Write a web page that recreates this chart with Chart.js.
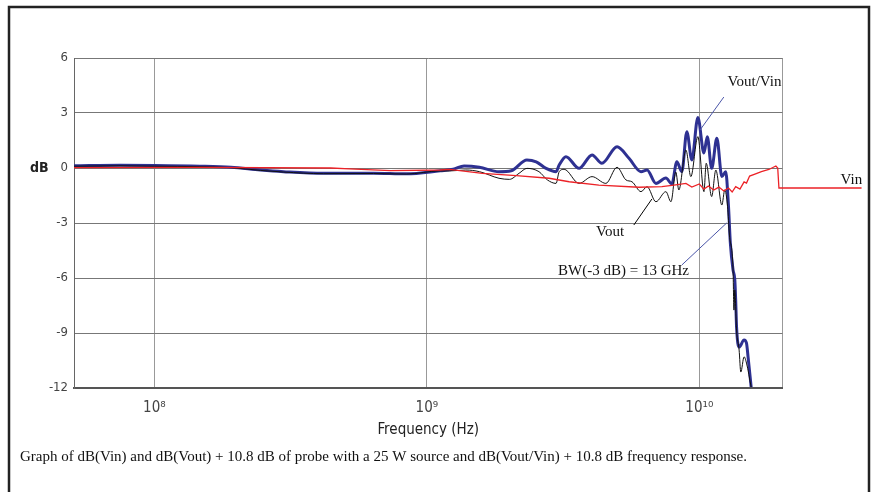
<!DOCTYPE html>
<html>
<head>
<meta charset="utf-8">
<script src="https://cdn.jsdelivr.net/npm/chart.js@4/dist/chart.umd.min.js"></script>
<style>
  body { margin: 0; background: #fff; }
  canvas { display: block; }
</style>
</head>
<body>
<canvas id="myChart" width="873" height="492"></canvas>
<script>
// frequency (Hz) / level (dB)
vinFreq = [5.07e7, 1.47e8, 4.44e8, 5.2e8, 7.35e8, 1.12e9, 1.21e9, 1.6e9, 2.13e9, 2.81e9, 3.33e9, 4.28e9, 6.0e9, 7.29e9, 8.07e9, 8.93e9, 9.39e9, 1.0e10, 1.04e10, 1.08e10, 1.13e10, 1.18e10, 1.23e10, 1.28e10, 1.32e10, 1.36e10, 1.41e10, 1.46e10, 1.49e10, 1.53e10, 1.60e10, 1.69e10, 1.80e10, 1.91e10, 1.94e10, 1.96e10, 3.94e10];
vinDb = [0.02, 0.03, 0, -0.05, -0.14, -0.11, -0.08, -0.29, -0.42, -0.56, -0.75, -0.93, -1.05, -1.02, -0.93, -0.84, -1.04, -0.87, -1.15, -0.98, -1.2, -1.04, -1.25, -1.09, -1.31, -1.02, -1.15, -0.76, -0.82, -0.44, -0.33, -0.2, -0.08, 0.11, 0, -1.09, -1.09];

voutFreq = [5.07e7, 7.48e7, 1e8, 1.47e8, 1.91e8, 2.45e8, 2.98e8, 4.18e8, 6.37e8, 8.41e8, 1.12e9, 1.21e9, 1.39e9, 1.56e9, 1.84e9, 2.01e9, 2.18e9, 2.33e9, 2.58e9, 2.77e9, 2.98e9, 3.06e9, 3.19e9, 3.62e9, 4.04e9, 4.54e9, 4.99e9, 5.38e9, 5.66e9, 6.11e9, 6.43e9, 6.93e9, 7.54e9, 7.87e9, 8.20e9, 8.41e9, 8.93e9, 9.31e9, 9.88e9, 1.04e10, 1.06e10, 1.11e10, 1.15e10, 1.21e10, 1.24e10, 1.27e10, 1.29e10, 1.33e10, 1.34e10, 1.35e10, 1.37e10, 1.40e10, 1.42e10, 1.46e10, 1.49e10, 1.55e10];
voutDb = [0.1, 0.12, 0.1, 0.07, 0.02, -0.13, -0.22, -0.31, -0.3, -0.33, -0.16, -0.16, -0.11, -0.2, -0.56, -0.62, -0.29, -0.02, -0.2, -0.65, -0.84, -0.2, -0.07, -0.84, -0.47, -0.84, 0.04, -0.65, -0.75, -1.29, -1.02, -1.84, -1.29, -1.84, -0.22, -1.2, 0.98, -0.47, 1.71, -1.29, 0.26, -1.56, -0.11, -2.02, -1.2, -2.11, -3.66, -5.56, -7.75, -6.65, -8.84, -9.93, -11.13, -10.3, -10.64, -11.95];

ratioFreq = [5.07e7, 7.48e7, 1e8, 1.47e8, 1.91e8, 2.45e8, 2.98e8, 4.18e8, 6.37e8, 8.41e8, 1.12e9, 1.25e9, 1.37e9, 1.56e9, 1.84e9, 2.04e9, 2.33e9, 2.52e9, 2.74e9, 2.98e9, 3.06e9, 3.24e9, 3.62e9, 4.04e9, 4.39e9, 4.99e9, 5.52e9, 6.11e9, 6.43e9, 6.93e9, 7.54e9, 7.93e9, 8.27e9, 8.63e9, 9.0e9, 9.39e9, 9.88e9, 1.04e10, 1.07e10, 1.11e10, 1.16e10, 1.21e10, 1.25e10, 1.28e10, 1.30e10, 1.33e10, 1.35e10, 1.36e10, 1.37e10, 1.40e10, 1.46e10, 1.49e10, 1.51e10, 1.55e10];
ratioDb = [0.12, 0.15, 0.14, 0.1, 0.04, -0.11, -0.2, -0.29, -0.28, -0.32, -0.15, -0.07, 0.11, 0.04, -0.2, -0.15, 0.44, 0.34, -0.02, -0.2, 0.16, 0.62, -0.02, 0.71, 0.26, 1.16, 0.53, -0.2, -0.11, -0.84, -0.55, -0.87, 0.34, -0.2, 1.98, 0.44, 2.76, 0.82, 1.71, -0.02, 1.62, -0.47, -0.2, -2.11, -4.1, -5.56, -6.1, -7.2, -8.67, -9.77, -9.38, -9.55, -10.3, -11.95];

xTicks = [1e8, 1e9, 1e10];
xTickLabels = ["10\u2078", "10\u2079", "10\u00b9\u2070"];
yMin = -12;
yMax = 6;
yStep = 3;
fMin = 5.07e7;
fMax = 2.02e10;

caption = "Graph of dB(Vin) and dB(Vout) + 10.8 dB of probe with a 25 W source and dB(Vout/Vin) + 10.8 dB frequency response.";

// callouts, in axis units: [text, textF, textDb, lineF1, lineDb1, lineF2, lineDb2, colour]
notes = [
    ["Vout/Vin", 1.27e10, 4.69, 1.23e10, 3.87, 1.006e10, 2.07, "#4a55a8"],
    ["Vout", 4.18e9, -3.49, 5.75e9, -3.11, 6.7e9, -1.69, "#000"],
    ["BW(-3 dB) = 13 GHz", 3.03e9, -5.62, 8.63e9, -5.29, 1.26e10, -3.0, "#4a55a8"],
    ["Vin", 3.3e10, -0.65, null, null, null, null, "#000"]
];

function pts(f, v) {
    return f.map((x, i) => ({x: x, y: v[i]}));
}

narrow = "'DejaVu Sans Condensed', 'Liberation Sans', sans-serif";
serif = "'Liberation Serif', 'DejaVu Serif', serif";

var decorPlugin = {
    id: 'decor',
    beforeDraw(chart) {
        var ctx = chart.ctx;
        ctx.save();
        ctx.strokeStyle = '#222';
        ctx.lineWidth = 2.5;
        ctx.beginPath();
        ctx.moveTo(9, 500);
        ctx.lineTo(9, 7);
        ctx.lineTo(869, 7);
        ctx.lineTo(869, 500);
        ctx.stroke();
        ctx.restore();
    },
    afterDraw(chart) {
        var ctx = chart.ctx;
        var xs = chart.scales.x, ys = chart.scales.y;
        ctx.save();
        // y label
        ctx.fillStyle = '#222';
        ctx.font = "bold 14px " + narrow;
        ctx.textBaseline = 'middle';
        ctx.textAlign = 'left';
        ctx.fillText("dB", 30, ys.getPixelForValue(0));
        // callouts
        ctx.font = "15px " + serif;
        notes.forEach(function (n) {
            ctx.fillStyle = '#111';
            ctx.fillText(n[0], xs.getPixelForValue(n[1]), ys.getPixelForValue(n[2]));
            if (n[3] !== null) {
                ctx.strokeStyle = n[7];
                ctx.lineWidth = 1;
                ctx.beginPath();
                ctx.moveTo(xs.getPixelForValue(n[3]), ys.getPixelForValue(n[4]));
                ctx.lineTo(xs.getPixelForValue(n[5]), ys.getPixelForValue(n[6]));
                ctx.stroke();
            }
        });
        // caption
        ctx.font = "15px " + serif;
        ctx.fillText(caption, 20, 457);
        ctx.restore();
    }
};

function renderChart() {
    var ctx = document.getElementById("myChart").getContext('2d');
    new Chart(ctx, {
        type: 'line',
        data: {
            datasets: [{
                label: 'Vin',
                data: pts(vinFreq, vinDb),
                borderColor: '#ec2227',
                borderWidth: 1.3,
                clip: false,
                order: 0
            }, {
                label: 'Vout',
                data: pts(voutFreq, voutDb),
                borderColor: '#111',
                borderWidth: 1,
                cubicInterpolationMode: 'monotone',
                order: 1
            }, {
                label: 'Vout/Vin',
                data: pts(ratioFreq, ratioDb),
                borderColor: '#2e3192',
                borderWidth: 3,
                cubicInterpolationMode: 'monotone',
                order: 2
            }]
        },
        options: {
            responsive: false,
            devicePixelRatio: 1,
            animation: false,
            layout: {padding: {left: 0, top: 58, right: 90.5, bottom: 0}},
            elements: {point: {radius: 0}, line: {tension: 0}},
            plugins: {legend: {display: false}, tooltip: {enabled: false}},
            scales: {
                x: {
                    type: 'logarithmic',
                    min: fMin,
                    max: fMax,
                    afterBuildTicks: function (axis) {
                        axis.ticks = [fMin].concat(xTicks, [fMax]).map(v => ({value: v}));
                    },
                    afterFit: function (axis) { axis.height = 104; },
                    ticks: {
                        autoSkip: false,
                        maxRotation: 0,
                        padding: 11,
                        color: '#444',
                        font: {family: narrow, size: 15},
                        callback: function (v) {
                            var i = xTicks.indexOf(v);
                            return i < 0 ? '' : xTickLabels[i];
                        }
                    },
                    grid: {color: '#999', drawTicks: false},
                    border: {color: '#555', width: 2},
                    title: {
                        display: true,
                        text: 'Frequency (Hz)',
                        color: '#222',
                        font: {family: narrow, size: 15},
                        padding: {top: 0, bottom: 53}
                    }
                },
                y: {
                    min: yMin,
                    max: yMax,
                    afterFit: function (axis) { axis.width = 74; },
                    ticks: {
                        stepSize: yStep,
                        padding: 6,
                        color: '#444',
                        font: {family: narrow, size: 13}
                    },
                    grid: {color: '#777', drawTicks: false},
                    border: {color: '#666', width: 1}
                }
            }
        },
        plugins: [decorPlugin]
    });
}

renderChart();
</script>
</body>
</html>
